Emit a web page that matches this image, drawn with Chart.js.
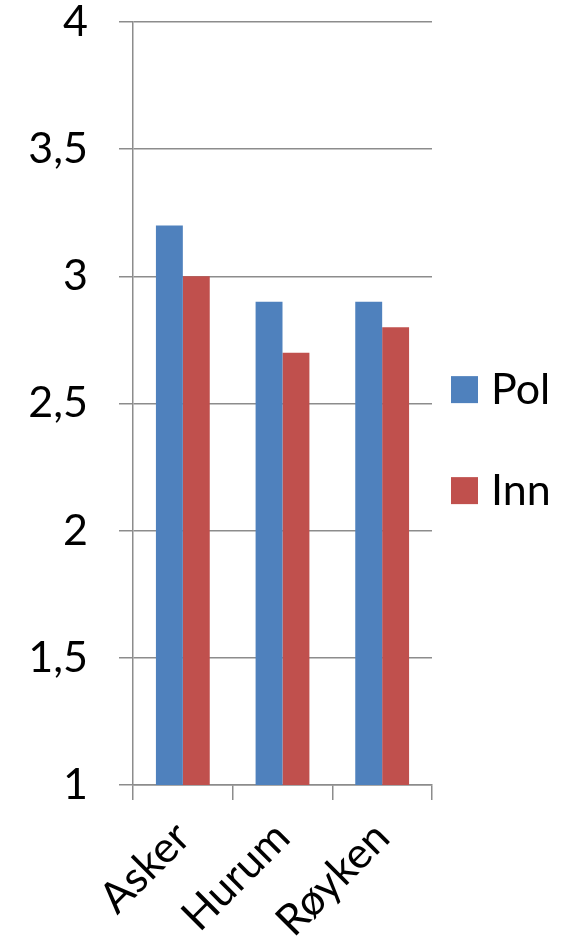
<!DOCTYPE html>
<html>
<head>
<meta charset="utf-8">
<script src="https://cdn.jsdelivr.net/npm/chart.js@4"></script>
<style>
  html, body { margin: 0; padding: 0; background: #fff; }
  #wrap { width: 562px; height: 950px; }
</style>
</head>
<body>
<div id="wrap"><canvas id="myChart" width="562" height="950"></canvas></div>
<script>
const kommuner = ['Asker', 'Hurum', 'Røyken'];
const pol = [3.2, 2.9, 2.9];
const inn = [3.0, 2.7, 2.8];
const yMin = 1;
const yMax = 4;
const yStep = 0.5;

const fontFam = 'Lato, "Open Sans", sans-serif';
const grid = '#8c8c8c';

// legend drawn by hand so the two entries can sit far apart like in the original
const sideLegend = {
    id: 'sideLegend',
    afterDraw(chart) {
        const ctx = chart.ctx;
        const area = chart.chartArea;
        const x = area.right + 19;
        const midY = area.top + (area.bottom - area.top) * 0.548;
        const gap = 101;
        ctx.save();
        ctx.font = '43px ' + fontFam;
        ctx.textBaseline = 'middle';
        ctx.fillStyle = '#000';
        chart.data.datasets.forEach((ds, i) => {
            const cy = midY + (i - 0.5) * gap;
            ctx.fillStyle = ds.backgroundColor;
            ctx.fillRect(x, cy - 13.5, 27, 27);
            ctx.fillStyle = '#000';
            ctx.fillText(ds.label, x + 40, cy + 1);
        });
        ctx.restore();
    }
};

const ctx = document.getElementById('myChart').getContext('2d');
const myChart = new Chart(ctx, {
    type: 'bar',
    data: {
        labels: kommuner,
        datasets: [{
            label: 'Pol',
            data: pol,
            backgroundColor: '#4F81BD',
            categoryPercentage: 0.54,
            barPercentage: 1
        }, {
            label: 'Inn',
            data: inn,
            backgroundColor: '#C0504D',
            categoryPercentage: 0.54,
            barPercentage: 1
        }]
    },
    options: {
        responsive: false,
        animation: false,
        layout: { padding: { top: 0, right: 130, left: 0, bottom: 0 } },
        plugins: {
            legend: { display: false },
            tooltip: { enabled: false }
        },
        scales: {
            x: {
                grid: {
                    drawOnChartArea: false,
                    drawTicks: true,
                    tickLength: 15,
                    color: grid,
                    lineWidth: 1.5,
                    offset: true
                },
                border: { color: grid, width: 1.5 },
                ticks: {
                    color: '#000',
                    font: { family: fontFam, size: 43, lineHeight: 1 },
                    minRotation: 45,
                    maxRotation: 45,
                    padding: 15
                },
                afterFit(scale) {
                    scale.height = 165;
                    scale.paddingTop = 0;
                }
            },
            y: {
                min: yMin,
                max: yMax,
                grid: {
                    color: grid,
                    lineWidth: 1.5,
                    tickLength: 14
                },
                border: { color: grid, width: 1.5 },
                ticks: {
                    stepSize: yStep,
                    color: '#000',
                    padding: 31,
                    font: { family: fontFam, size: 43, lineHeight: 1 },
                    callback: v => String(v).replace('.', ',')
                },
                afterFit(scale) {
                    scale.width = 133;
                    scale.paddingTop = 22;
                }
            }
        }
    },
    plugins: [sideLegend]
});
</script>
</body>
</html>
